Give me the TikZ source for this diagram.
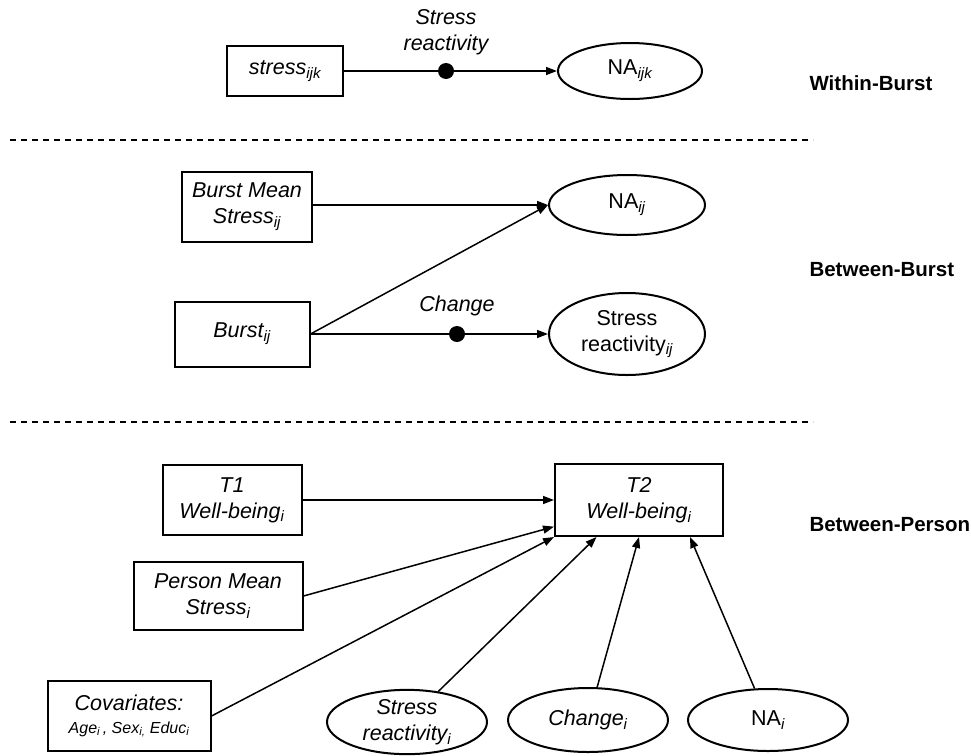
\documentclass[tikz,border=0pt]{standalone}
\usepackage{fontspec}
\setmainfont{Liberation Sans}
\usetikzlibrary{shapes.geometric,arrows.meta,calc}
\newcommand{\sbs}[1]{\textsubscript{\itshape #1}}
\begin{document}
\begin{tikzpicture}[x=1pt,y=-1pt,
  box/.style={draw, line width=2pt, rectangle, inner sep=0pt, align=center,
    font=\fontsize{21.5}{26}\selectfont\itshape},
  oval/.style={draw, line width=2pt, ellipse, inner sep=0pt, align=center,
    font=\fontsize{21.5}{26}\selectfont},
  ovali/.style={oval, font=\fontsize{21.5}{26}\selectfont\itshape},
  conn/.style={line width=1.5pt, -{Triangle[length=11pt,width=8pt]}},
  lbl/.style={font=\fontsize{21.5}{26}\selectfont\itshape, align=center},
  lvl/.style={font=\fontsize{20.5}{24}\selectfont\bfseries, anchor=west},
  sepline/.style={line width=1.4pt, dash pattern=on 6pt off 5pt},
  jdot/.style={circle, fill=black, inner sep=0pt, minimum size=16pt}
]
\useasboundingbox (0,0) rectangle (971,755);
% ---------- Within-Burst ----------
\node[box, minimum width=116pt, minimum height=50pt] (s1) at (285,71) {stress\sbs{ijk}};
\node[oval, minimum width=144pt, minimum height=56pt] (na1) at (630,71) {NA\sbs{ijk}};
\node[jdot] (d1) at (446,71) {};
\node[lbl] (l1) at (446,32) {Stress\\reactivity};
\node[lvl] (wb) at (806,83) {Within-Burst};
\draw[conn] (s1) -- (d1) -- (na1);
% ---------- separators ----------
\coordinate (sa) at (10,140); \coordinate (sb) at (813,140);
\coordinate (sc) at (10,422); \coordinate (sd) at (813,422);
\draw[sepline] (sa) -- (sb);
\draw[sepline] (sc) -- (sd);
% ---------- Between-Burst ----------
\node[box, minimum width=130pt, minimum height=70pt] (bms) at (247,207) {Burst Mean\\Stress\sbs{ij}};
\node[box, minimum width=135pt, minimum height=65pt] (burst) at (242,334) {Burst\sbs{ij}};
\node[oval, minimum width=156pt, minimum height=60pt] (na2) at (627,205) {NA\sbs{ij}};
\node[oval, minimum width=156pt, minimum height=82pt] (sr2) at (627,334) {Stress\\reactivity\sbs{ij}};
\node[jdot] (d2) at (457,334) {};
\node[lbl] (l2) at (457,306) {Change};
\node[lvl] (bb) at (806,270) {Between-Burst};
\draw[conn] (bms.east |- na2.west) -- (na2.west);
\draw[conn] (burst.east) -- (na2.west);
\draw[conn] (burst) -- (d2) -- (sr2);
% ---------- Between-Person ----------
\node[box, minimum width=139pt, minimum height=70pt] (t1) at (232,500) {T1\\Well-being\sbs{i}};
\node[box, minimum width=169pt, minimum height=68pt] (pms) at (218,596) {Person Mean\\Stress\sbs{i}};
\node[box, minimum width=163pt, minimum height=70pt] (cov) at (129,716)
  {Covariates:\\[-3pt]{\fontsize{16}{19}\selectfont Age\sbs{i}\,, Sex\sbs{i,} Educ\sbs{i}}};
\node[box, minimum width=168pt, minimum height=72pt] (t2) at (639,500) {T2\\Well-being\sbs{i}};
\node[ovali, minimum width=160pt, minimum height=64pt] (sri) at (407,722) {Stress\\reactivity\sbs{i}};
\node[ovali, minimum width=160pt, minimum height=64pt] (chi) at (588,720) {Change\sbs{i}};
\node[oval, minimum width=160pt, minimum height=62pt] (nai) at (768,720) {NA\sbs{i}};
\node[lvl] (bp) at (806,525) {Between-Person};
\coordinate (t2l) at ($(t2.south west)!0.14!(t2.north west)$);
\coordinate (t2a) at ($(t2.south west)!0.25!(t2.south east)$);
\coordinate (t2b) at ($(t2.south west)!0.8!(t2.south east)$);
\draw[conn] (t1) -- (t2);
\draw[conn] (pms.east) -- (t2l);
\draw[conn] (cov.east) -- (t2.south west);
\draw[conn] (sri) -- (t2a);
\draw[conn] (chi) -- (t2.south);
\draw[conn] (nai) -- (t2b);
\end{tikzpicture}
\end{document}
